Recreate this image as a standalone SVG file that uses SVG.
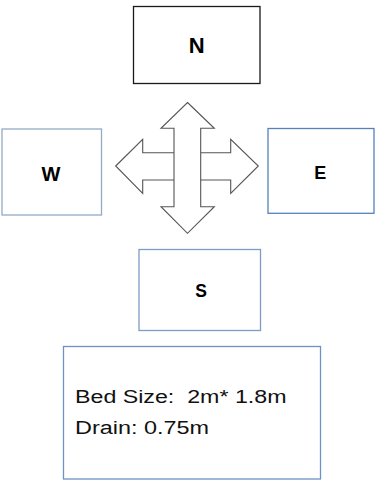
<svg xmlns="http://www.w3.org/2000/svg" width="382" height="484" viewBox="0 0 382 484">
  <style>
    .box { fill: #ffffff; stroke-width: 1.3; }
    .lbl { font-family: "Liberation Sans", Arial, sans-serif; font-weight: bold; fill: #000000; text-anchor: middle; }
    .arrow { fill: #ffffff; stroke: #555555; stroke-width: 1.1; stroke-linejoin: miter; }
    .note { font-family: "Liberation Sans", Arial, sans-serif; font-size: 18px; fill: #111111; }
  </style>
  <rect width="382" height="484" fill="#ffffff"/>

  <g id="node-n">
    <rect class="box" x="133.5" y="6.5" width="126.5" height="77" stroke="#1a1a1a"/>
    <text class="lbl" x="196.7" y="52.7" font-size="22">N</text>
  </g>

  <g id="node-w">
    <rect class="box" x="2" y="129" width="99.5" height="86" stroke="#93abc6"/>
    <text class="lbl" x="51" y="181" font-size="20">W</text>
  </g>

  <g id="node-e">
    <rect class="box" x="268" y="128.5" width="106" height="84.8" stroke="#5582bb"/>
    <text class="lbl" x="320.3" y="179.3" font-size="18">E</text>
  </g>

  <g id="node-s">
    <rect class="box" x="139" y="249.5" width="121.5" height="81" stroke="#7c9bc5"/>
    <text class="lbl" x="201" y="297.3" font-size="17.5">S</text>
  </g>

  <g id="node-bed">
    <rect class="box" x="63.5" y="346.5" width="257" height="132.5" stroke="#6d93c4"/>
    <text class="note" x="75" y="403.3" textLength="211.5" lengthAdjust="spacingAndGlyphs" xml:space="preserve">Bed Size:  2m* 1.8m</text>
    <text class="note" x="75" y="434" textLength="134" lengthAdjust="spacingAndGlyphs">Drain: 0.75m</text>
  </g>

  <g id="connectors">
    <!-- horizontal double arrow (W <-> E) -->
    <polygon class="arrow" points="115.7,166 142.7,139.3 142.7,152.7 230.7,152.7 230.7,139.3 258.3,166 230.7,193.5 230.7,180 142.7,180 142.7,193.5"/>
    <!-- vertical double arrow (N <-> S), drawn over the horizontal one -->
    <polygon class="arrow" points="187.5,102.5 214.3,128.3 200.7,128.3 200.7,206.7 214.3,206.7 187.5,233.3 161,206.7 174,206.7 174,128.3 161,128.3"/>
  </g>
</svg>
